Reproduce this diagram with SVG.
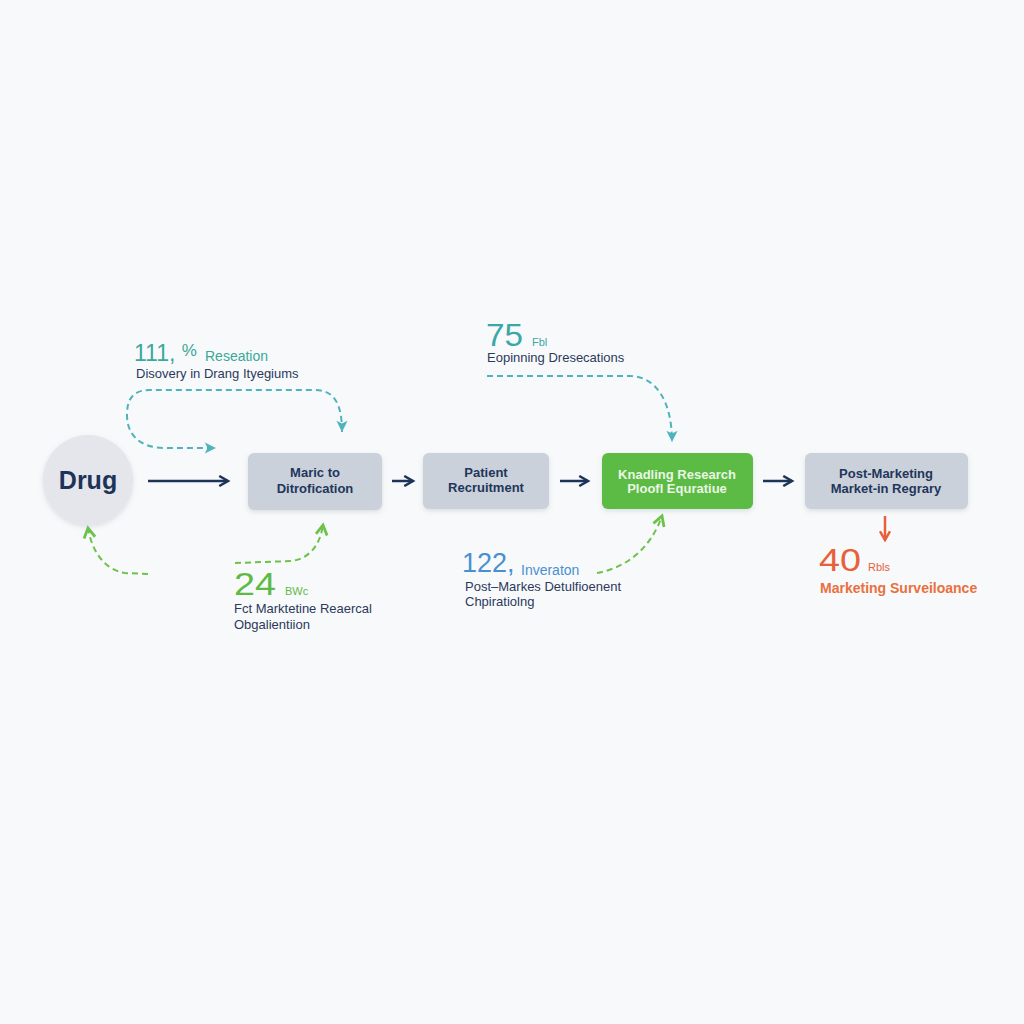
<svg xmlns="http://www.w3.org/2000/svg" width="1024" height="1024" viewBox="0 0 1024 1024">
<defs>
<style>
.t{font-family:"Liberation Sans",Arial,sans-serif;}
.lbl{font-family:"Liberation Sans",Arial,sans-serif;font-size:13px;fill:#2b3a5c;}
.box{fill:#cad1db;filter:url(#sh);}
.btxt{font-family:"Liberation Sans",Arial,sans-serif;font-size:13px;fill:#22365a;font-weight:bold;text-anchor:middle;}
.solid{stroke:#1e3358;stroke-width:2.5;fill:none;marker-end:url(#an);}
.dteal{stroke:#4fb3bf;stroke-width:2;fill:none;stroke-dasharray:6 4;}
.dgreen{stroke:#6cc24a;stroke-width:2;fill:none;stroke-dasharray:6 4;}
</style>
<filter id="sh" x="-20%" y="-20%" width="140%" height="150%"><feDropShadow dx="0" dy="2" stdDeviation="2.5" flood-color="#8090a0" flood-opacity="0.25"/></filter>
<marker id="an" viewBox="0 0 10 10" refX="8" refY="5" markerWidth="5" markerHeight="5" orient="auto"><path d="M1 1 L8 5 L1 9" fill="none" stroke="#1e3358" stroke-width="2"/></marker>
<marker id="at" viewBox="0 0 10 10" refX="9" refY="5" markerWidth="7" markerHeight="7" orient="auto-start-reverse"><path d="M1 1 L9 5 L1 9 L3 5Z" fill="#4fb3bf"/></marker>
<marker id="ag" viewBox="0 0 10 10" refX="8" refY="5" markerWidth="7" markerHeight="7" orient="auto-start-reverse"><path d="M1 1 L8 5 L1 9" fill="none" stroke="#6cc24a" stroke-width="2"/></marker>
<marker id="ao" viewBox="0 0 10 10" refX="8" refY="5" markerWidth="5" markerHeight="5" orient="auto"><path d="M1 1 L8 5 L1 9" fill="none" stroke="#e8603a" stroke-width="2"/></marker>
</defs>
<rect width="1024" height="1024" fill="#f8f9fa"/>

<g id="connectors">
<path class="solid" d="M148 481 H228"/>
<path class="solid" d="M392 481 H413"/>
<path class="solid" d="M560 481 H588"/>
<path class="solid" d="M763 481 H792"/>
<path d="M885 516 V540" stroke="#e8603a" stroke-width="2.5" fill="none" marker-end="url(#ao)"/>
<path class="dteal" d="M342 432 C342 405 335 390 315 390 L150 390 C132 390 127 400 127 415 C127 435 140 448 165 448 L216 448" marker-start="url(#at)" marker-end="url(#at)"/>
<path class="dteal" d="M487 376 L630 376 C655 376 672 400 672 442" marker-end="url(#at)"/>
<path class="dgreen" d="M148 574 L125 573 C105 570 92 552 88 528" marker-end="url(#ag)"/>
<path class="dgreen" d="M235 563 L292 561 C310 558 320 545 323 525" marker-end="url(#ag)"/>
<path class="dgreen" d="M597 573 C625 568 650 550 662 516" marker-end="url(#ag)"/>
</g>

<g id="drug">
<circle cx="88" cy="480" r="45" fill="#e4e6ec" filter="url(#sh)"/>
<text class="t" x="88" y="489" font-size="25" font-weight="bold" fill="#1e3358" text-anchor="middle">Drug</text>
</g>

<g id="box1">
<rect class="box" x="248" y="453" width="134" height="57" rx="6"/>
<text class="btxt" x="315" y="477">Maric to</text>
<text class="btxt" x="315" y="493">Ditrofication</text>
</g>

<g id="box2">
<rect class="box" x="423" y="453" width="126" height="56" rx="6"/>
<text class="btxt" x="486" y="477">Patient</text>
<text class="btxt" x="486" y="492">Recruitment</text>
</g>

<g id="box3">
<rect x="602" y="453" width="151" height="56" rx="6" fill="#5cbb45" filter="url(#sh)"/>
<text class="btxt" x="677" y="479" style="fill:#eaf6e4">Knadling Research</text>
<text class="btxt" x="677" y="493" style="fill:#eaf6e4">Ploofl Equratiue</text>
</g>

<g id="box4">
<rect class="box" x="805" y="453" width="163" height="56" rx="6"/>
<text class="btxt" x="886" y="478">Post-Marketing</text>
<text class="btxt" x="886" y="493">Market-in Regrary</text>
</g>

<g id="note-discovery">
<text class="t" x="134" y="361" font-size="23" fill="#3aa89a">111, <tspan font-size="17" dy="-5">%</tspan></text>
<text class="t" x="205" y="361" font-size="14" fill="#3aa89a">Reseation</text>
<text class="lbl" x="136" y="378">Disovery in Drang Ityegiums</text>
</g>

<g id="note-75">
<text class="t" x="486" y="346" font-size="32" fill="#3aa8a8" textLength="37" lengthAdjust="spacingAndGlyphs">75</text>
<text class="t" x="532" y="346" font-size="11" fill="#3aa8a8">Fbl</text>
<text class="lbl" x="487" y="362">Eopinning Dresecations</text>
</g>

<g id="note-24">
<text class="t" x="234" y="595" font-size="31" fill="#5cbb45" textLength="42" lengthAdjust="spacingAndGlyphs">24</text>
<text class="t" x="285" y="595" font-size="11" fill="#5cbb45">BWc</text>
<text class="lbl" x="234" y="613">Fct Marktetine Reaercal</text>
<text class="lbl" x="234" y="629">Obgalientiion</text>
</g>

<g id="note-122">
<text class="t" x="462" y="572" font-size="27" fill="#4a90d0">122,</text>
<text class="t" x="521" y="575" font-size="14" fill="#4a90d0">Inveraton</text>
<text class="lbl" x="465" y="591">Post–Markes Detulfioenent</text>
<text class="lbl" x="465" y="606">Chpiratiolng</text>
</g>

<g id="note-40">
<text class="t" x="819" y="571" font-size="31" fill="#e8603a" textLength="42" lengthAdjust="spacingAndGlyphs">40</text>
<text class="t" x="868" y="571" font-size="11" fill="#e8603a">Rbls</text>
<text class="t" x="820" y="593" font-size="14" font-weight="bold" fill="#e8703f">Marketing Surveiloance</text>
</g>
</svg>
